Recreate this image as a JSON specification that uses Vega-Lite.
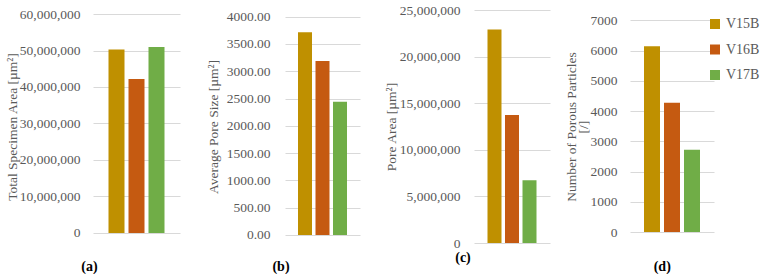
{
  "$schema": "https://vega.github.io/schema/vega-lite/v6.json",
  "padding": {"left": 5, "top": 3, "right": 0, "bottom": 0},
  "background": "white",
  "datasets": {
    "d": [
      {"sample": "V15B", "total": 50300000, "avg": 3714, "pore": 22900000, "count": 6140},
      {"sample": "V16B", "total": 42200000, "avg": 3188, "pore": 13730000, "count": 4276},
      {"sample": "V17B", "total": 50960000, "avg": 2443, "pore": 6740000, "count": 2722}
    ]
  },
  "config": {
    "font": "Liberation Serif",
    "view": {"stroke": null},
    "axis": {"labelFont": "Liberation Serif", "labelFontSize": 13.5, "labelColor": "#595959", "titleFont": "Liberation Serif", "titleFontSize": 13.5, "titleFontWeight": "normal", "titleColor": "#595959", "gridColor": "#D9D9D9", "domain": false, "ticks": false},
    "title": {"font": "Liberation Serif", "fontSize": 14, "fontWeight": "bold", "color": "#000000", "orient": "bottom", "anchor": "middle", "frame": "bounds"},
    "legend": {"labelFont": "Liberation Serif", "labelFontSize": 14, "labelColor": "#595959"}
  },
  "bounds": "full",
  "spacing": 24,
  "resolve": {"scale": {"x": "independent", "y": "independent", "color": "independent"}, "legend": {"color": "independent"}},
  "hconcat": [
    {
      "name": "left",
      "bounds": "full",
      "spacing": 26,
      "resolve": {"scale": {"x": "independent", "y": "independent", "color": "independent"}, "legend": {"color": "independent"}},
      "hconcat": [
        {
          "name": "pa",
          "width": 87, "height": 233,
          "data": {"name": "d"},
          "title": {"text": "(a)", "offset": 17, "dx": -3},
          "mark": {"type": "bar"},
          "encoding": {
            "x": {"field": "sample", "type": "nominal", "axis": null, "scale": {"paddingInner": 0.2, "paddingOuter": 0.775}},
            "y": {"field": "total", "type": "quantitative", "scale": {"domain": [-2740000, 61096000], "nice": false, "zero": false}, "axis": {"title": "Total Specimen Area [µm²]", "values": [0, 10000000, 20000000, 30000000, 40000000, 50000000, 60000000], "format": ",d", "labelPadding": 13, "minExtent": 74, "maxExtent": 74, "titlePadding": 0}},
            "color": {"field": "sample", "type": "nominal", "scale": {"domain": ["V15B", "V16B", "V17B"], "range": ["#BF9000", "#C55A11", "#70AD47"]}, "legend": null}
          }
        },
        {
          "name": "pb",
          "width": 75, "height": 233,
          "data": {"name": "d"},
          "title": {"text": "(b)", "offset": 17, "dx": -2},
          "mark": {"type": "bar"},
          "encoding": {
            "x": {"field": "sample", "type": "nominal", "axis": null, "scale": {"paddingInner": 0.2, "paddingOuter": 0.743}},
            "y": {"field": "avg", "type": "quantitative", "scale": {"domain": [-146.6, 4122.8], "nice": false, "zero": false}, "axis": {"title": "Average Pore Size [µm²]", "values": [0, 500, 1000, 1500, 2000, 2500, 3000, 3500, 4000], "format": ".2f", "labelPadding": 15, "minExtent": 59, "maxExtent": 59, "titlePadding": 6}},
            "color": {"field": "sample", "type": "nominal", "scale": {"domain": ["V15B", "V16B", "V17B"], "range": ["#BF9000", "#C55A11", "#70AD47"]}, "legend": null}
          }
        }
      ]
    },
    {
      "name": "right",
      "bounds": "full",
      "spacing": 14,
      "resolve": {"scale": {"x": "independent", "y": "independent", "color": "independent"}, "legend": {"color": "independent"}},
      "hconcat": [
        {
          "name": "pc",
          "width": 76, "height": 233,
          "data": {"name": "d"},
          "title": {"text": "(c)", "offset": 1, "dx": -4},
          "mark": {"type": "bar"},
          "encoding": {
            "x": {"field": "sample", "type": "nominal", "axis": null, "scale": {"paddingInner": 0.2, "paddingOuter": 0.771}},
            "y": {"field": "pore", "type": "quantitative", "scale": {"domain": [0, 25000000], "nice": false, "zero": false}, "axis": {"title": "Pore Area [µm²]", "values": [0, 5000000, 10000000, 15000000, 20000000, 25000000], "format": ",d", "labelPadding": 14, "minExtent": 75, "maxExtent": 75, "titlePadding": 1}},
            "color": {"field": "sample", "type": "nominal", "scale": {"domain": ["V15B", "V16B", "V17B"], "range": ["#BF9000", "#C55A11", "#70AD47"]}, "legend": null}
          }
        },
        {
          "name": "pd",
          "width": 84, "height": 233,
          "data": {"name": "d"},
          "title": {"text": "(d)", "offset": 17},
          "mark": {"type": "bar"},
          "encoding": {
            "x": {"field": "sample", "type": "nominal", "axis": null, "scale": {"paddingInner": 0.2, "paddingOuter": 0.7}},
            "y": {"field": "count", "type": "quantitative", "scale": {"domain": [-363.7, 7340.6], "nice": false, "zero": false}, "axis": {"title": ["Number of Porous Particles", "[/]"], "titleLineHeight": 11.5, "values": [0, 1000, 2000, 3000, 4000, 5000, 6000, 7000], "format": "d", "labelPadding": 13, "minExtent": 40, "maxExtent": 40, "titlePadding": 0}},
            "color": {"field": "sample", "type": "nominal", "title": null, "scale": {"domain": ["V15B", "V16B", "V17B"], "range": ["#BF9000", "#C55A11", "#70AD47"]}, "legend": {"orient": "none", "legendX": 78, "legendY": 7, "symbolType": "square", "symbolSize": 100, "symbolStrokeWidth": 0, "symbolOpacity": 1, "labelOffset": 4, "rowPadding": 11.5}}
          }
        }
      ]
    }
  ]
}
